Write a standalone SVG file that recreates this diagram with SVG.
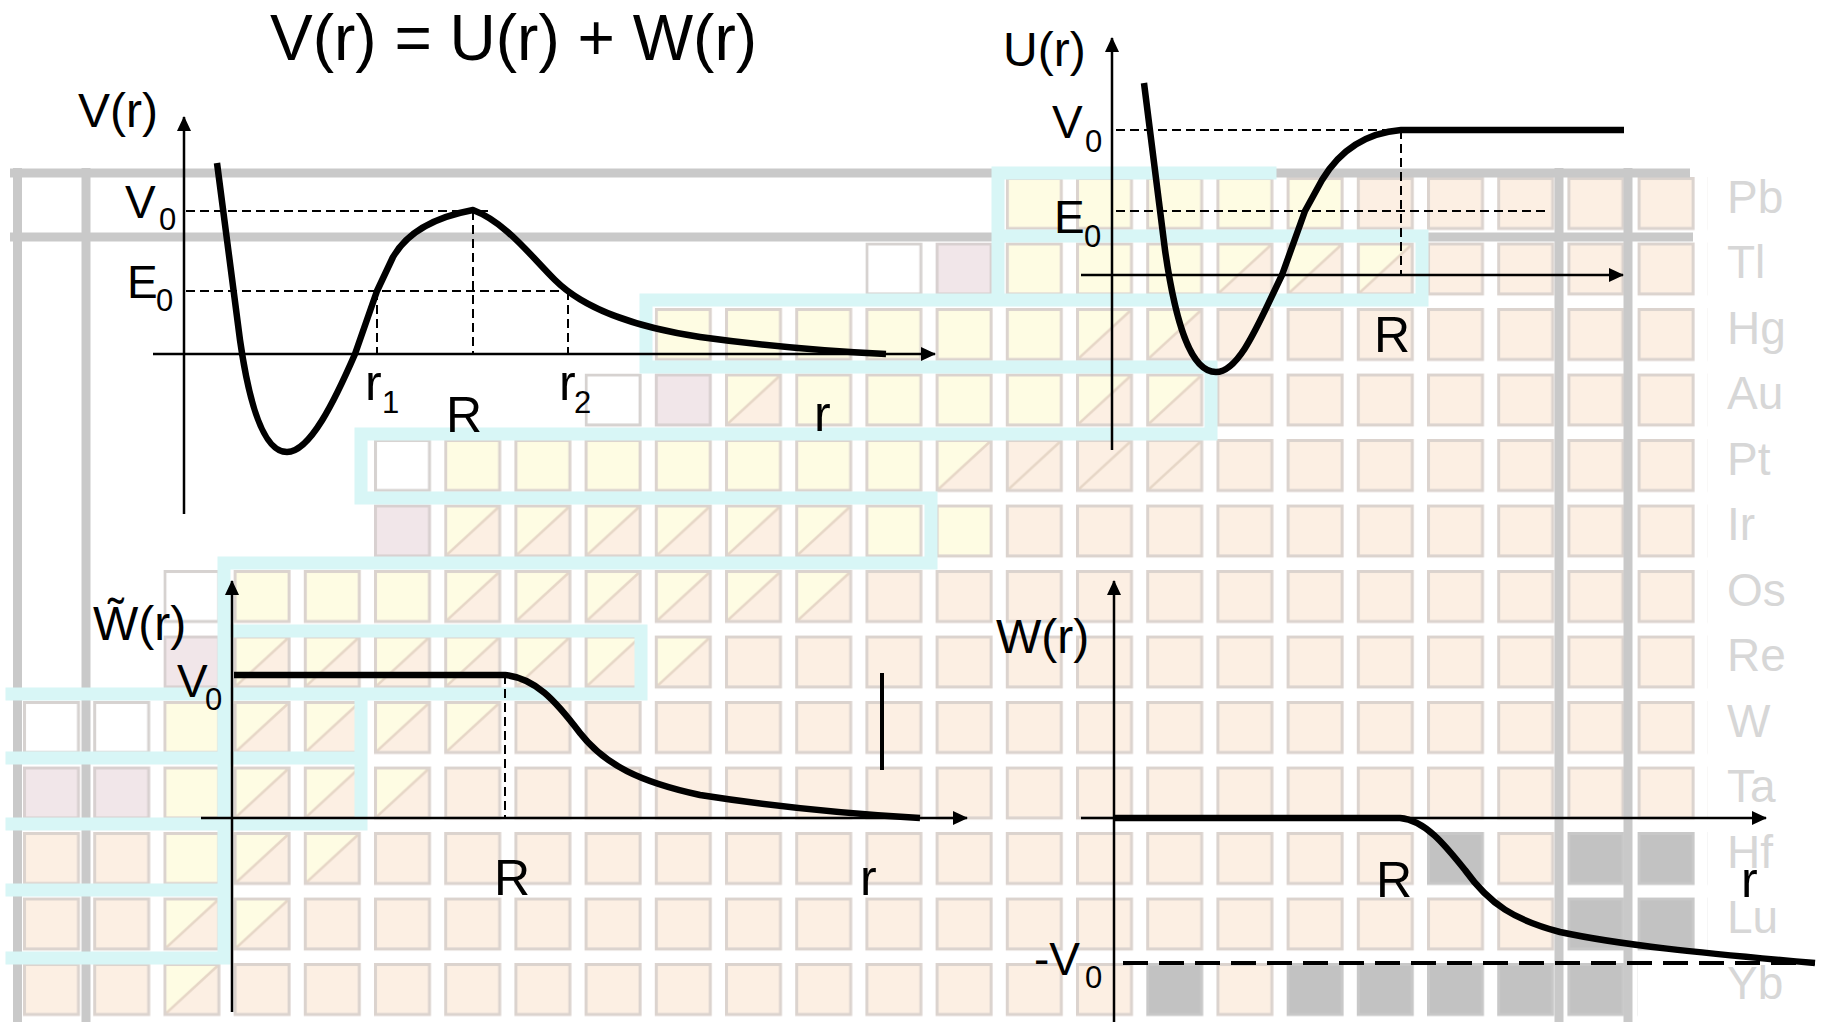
<svg xmlns="http://www.w3.org/2000/svg" width="1824" height="1022" viewBox="0 0 1824 1022">
<style>
.ax{stroke:#000;stroke-width:2.5;fill:none}
.cv{stroke:#000;stroke-width:6.5;fill:none;stroke-linejoin:round;stroke-linecap:butt}
.dsh{stroke:#000;stroke-width:2;stroke-dasharray:9 5;fill:none}
.lbl{font-family:"Liberation Sans",Arial,sans-serif;font-size:48px;fill:#000}
.big{font-size:50px}
.sm{font-size:46px}
.sub{font-size:31px}
.el{font-family:"Liberation Sans",Arial,sans-serif;font-size:46px;fill:#d7d7d7}
.cy{stroke:#d8f6f6;stroke-width:13;fill:none;stroke-linecap:square}
.gb{stroke:#c9c9c9;stroke-width:9;fill:none}
</style>
<defs>
<marker id="arr" markerWidth="15" markerHeight="14" refX="14" refY="7" orient="auto" markerUnits="userSpaceOnUse"><path d="M0,0 L15,7 L0,14 z" fill="#000"/></marker>
<pattern id="pP" x="23" y="177" width="70.2" height="65.5" patternUnits="userSpaceOnUse"><rect x="1.5" y="1.5" width="54" height="50" fill="#fcefe3" stroke="#dbd3ce" stroke-width="3"/></pattern>
<pattern id="pY" x="23" y="177" width="70.2" height="65.5" patternUnits="userSpaceOnUse"><rect x="1.5" y="1.5" width="54" height="50" fill="#fefce3" stroke="#dbd3ce" stroke-width="3"/></pattern>
<pattern id="pYD" x="23" y="177" width="70.2" height="65.5" patternUnits="userSpaceOnUse"><rect x="1.5" y="1.5" width="54" height="50" fill="#fefce3"/><polygon points="55.5,1.5 55.5,51.5 1.5,51.5" fill="#fcefe3"/><line x1="3" y1="50" x2="54" y2="3" stroke="#e6d6c6" stroke-width="2.5"/><rect x="1.5" y="1.5" width="54" height="50" fill="none" stroke="#dbd3ce" stroke-width="3"/></pattern>
<pattern id="pPD" x="23" y="177" width="70.2" height="65.5" patternUnits="userSpaceOnUse"><rect x="1.5" y="1.5" width="54" height="50" fill="#fcefe3"/><line x1="3" y1="50" x2="54" y2="3" stroke="#e6d6c6" stroke-width="2.5"/><rect x="1.5" y="1.5" width="54" height="50" fill="none" stroke="#dbd3ce" stroke-width="3"/></pattern>
<pattern id="pW" x="23" y="177" width="70.2" height="65.5" patternUnits="userSpaceOnUse"><rect x="1.5" y="1.5" width="54" height="50" fill="#ffffff" stroke="#d6d2d0" stroke-width="3"/></pattern>
<pattern id="pK" x="23" y="177" width="70.2" height="65.5" patternUnits="userSpaceOnUse"><rect x="1.5" y="1.5" width="54" height="50" fill="#f1e6e9" stroke="#d8d0d0" stroke-width="3"/></pattern>
<pattern id="pG" x="23" y="177" width="70.2" height="65.5" patternUnits="userSpaceOnUse"><rect x="1.5" y="1.5" width="54" height="50" fill="#c2c2c2" stroke="#c8c8c8" stroke-width="3"/></pattern>
</defs>
<rect width="1824" height="1022" fill="#fff"/>
<g id="chart-cells">
<rect x="1005.8" y="177" width="351" height="65.5" fill="url(#pY)"/>
<rect x="1356.8" y="177" width="351" height="65.5" fill="url(#pP)"/>
<rect x="865.4" y="242.5" width="70.2" height="65.5" fill="url(#pW)"/>
<rect x="935.6" y="242.5" width="70.2" height="65.5" fill="url(#pK)"/>
<rect x="1005.8" y="242.5" width="210.6" height="65.5" fill="url(#pY)"/>
<rect x="1216.4" y="242.5" width="210.6" height="65.5" fill="url(#pYD)"/>
<rect x="1427" y="242.5" width="280.8" height="65.5" fill="url(#pP)"/>
<rect x="654.8" y="308" width="421.2" height="65.5" fill="url(#pY)"/>
<rect x="1076" y="308" width="140.4" height="65.5" fill="url(#pYD)"/>
<rect x="1216.4" y="308" width="491.4" height="65.5" fill="url(#pP)"/>
<rect x="584.6" y="373.5" width="70.2" height="65.5" fill="url(#pW)"/>
<rect x="654.8" y="373.5" width="70.2" height="65.5" fill="url(#pK)"/>
<rect x="725" y="373.5" width="70.2" height="65.5" fill="url(#pYD)"/>
<rect x="795.2" y="373.5" width="280.8" height="65.5" fill="url(#pY)"/>
<rect x="1076" y="373.5" width="140.4" height="65.5" fill="url(#pYD)"/>
<rect x="1216.4" y="373.5" width="491.4" height="65.5" fill="url(#pP)"/>
<rect x="374" y="439" width="70.2" height="65.5" fill="url(#pW)"/>
<rect x="444.2" y="439" width="491.4" height="65.5" fill="url(#pY)"/>
<rect x="935.6" y="439" width="70.2" height="65.5" fill="url(#pYD)"/>
<rect x="1005.8" y="439" width="210.6" height="65.5" fill="url(#pPD)"/>
<rect x="1216.4" y="439" width="491.4" height="65.5" fill="url(#pP)"/>
<rect x="374" y="504.5" width="70.2" height="65.5" fill="url(#pK)"/>
<rect x="444.2" y="504.5" width="421.2" height="65.5" fill="url(#pYD)"/>
<rect x="865.4" y="504.5" width="140.4" height="65.5" fill="url(#pY)"/>
<rect x="1005.8" y="504.5" width="702" height="65.5" fill="url(#pP)"/>
<rect x="163.4" y="570" width="70.2" height="65.5" fill="url(#pW)"/>
<rect x="233.6" y="570" width="210.6" height="65.5" fill="url(#pY)"/>
<rect x="444.2" y="570" width="421.2" height="65.5" fill="url(#pYD)"/>
<rect x="865.4" y="570" width="842.4" height="65.5" fill="url(#pP)"/>
<rect x="163.4" y="635.5" width="70.2" height="65.5" fill="url(#pK)"/>
<rect x="233.6" y="635.5" width="491.4" height="65.5" fill="url(#pYD)"/>
<rect x="725" y="635.5" width="982.8" height="65.5" fill="url(#pP)"/>
<rect x="23" y="701" width="140.4" height="65.5" fill="url(#pW)"/>
<rect x="163.4" y="701" width="70.2" height="65.5" fill="url(#pY)"/>
<rect x="233.6" y="701" width="280.8" height="65.5" fill="url(#pYD)"/>
<rect x="514.4" y="701" width="1193.4" height="65.5" fill="url(#pP)"/>
<rect x="23" y="766.5" width="140.4" height="65.5" fill="url(#pK)"/>
<rect x="163.4" y="766.5" width="70.2" height="65.5" fill="url(#pY)"/>
<rect x="233.6" y="766.5" width="210.6" height="65.5" fill="url(#pYD)"/>
<rect x="444.2" y="766.5" width="1263.6" height="65.5" fill="url(#pP)"/>
<rect x="23" y="832" width="140.4" height="65.5" fill="url(#pP)"/>
<rect x="163.4" y="832" width="70.2" height="65.5" fill="url(#pY)"/>
<rect x="233.6" y="832" width="140.4" height="65.5" fill="url(#pYD)"/>
<rect x="374" y="832" width="1053" height="65.5" fill="url(#pP)"/>
<rect x="1427" y="832" width="70.2" height="65.5" fill="url(#pG)"/>
<rect x="1497.2" y="832" width="70.2" height="65.5" fill="url(#pP)"/>
<rect x="1567.4" y="832" width="140.4" height="65.5" fill="url(#pG)"/>
<rect x="23" y="897.5" width="140.4" height="65.5" fill="url(#pP)"/>
<rect x="163.4" y="897.5" width="140.4" height="65.5" fill="url(#pYD)"/>
<rect x="303.8" y="897.5" width="1263.6" height="65.5" fill="url(#pP)"/>
<rect x="1567.4" y="897.5" width="140.4" height="65.5" fill="url(#pG)"/>
<rect x="23" y="963" width="140.4" height="65.5" fill="url(#pP)"/>
<rect x="163.4" y="963" width="70.2" height="65.5" fill="url(#pYD)"/>
<rect x="233.6" y="963" width="912.6" height="65.5" fill="url(#pP)"/>
<rect x="1146.2" y="963" width="70.2" height="65.5" fill="url(#pG)"/>
<rect x="1216.4" y="963" width="70.2" height="65.5" fill="url(#pP)"/>
<rect x="1286.6" y="963" width="351" height="65.5" fill="url(#pG)"/>
</g>
<g id="chart-gray-lines">
<path class="gb" d="M10,173 H1690 M10,237 H1693"/>
<path class="gb" d="M17.5,168 V1022 M86,168 V1022 M1559,168 V1022 M1628,168 V1022"/>
</g>
<g id="chart-cyan-lines">
<path class="cy" d="M998,173 H1270 M998,173 V300 M998,236 H1422 M1422,236 V300 M646,300 H1422 M646,300 V367 M646,367 H1211 M1211,367 V434 M361,434 H1211 M361,434 V498 M361,498 H931 M931,498 V563 M224,563 H931 M224,563 V958 M224,631 H641 M641,631 V694 M12,694 H641 M361,694 V824 M12,758 H361 M12,824 H361 M12,890 H224 M12,958 H224"/>
</g>
<g id="element-labels">
<text class="el" x="1727" y="213">Pb</text>
<text class="el" x="1727" y="278">Tl</text>
<text class="el" x="1727" y="344">Hg</text>
<text class="el" x="1727" y="409">Au</text>
<text class="el" x="1727" y="475">Pt</text>
<text class="el" x="1727" y="540">Ir</text>
<text class="el" x="1727" y="606">Os</text>
<text class="el" x="1727" y="671">Re</text>
<text class="el" x="1727" y="737">W</text>
<text class="el" x="1727" y="802">Ta</text>
<text class="el" x="1727" y="868">Hf</text>
<text class="el" x="1727" y="933">Lu</text>
<text class="el" x="1727" y="999">Yb</text>
</g>
<g id="title">
<text class="lbl" x="270" y="60" font-size="64" style="font-size:64px">V(r) = U(r) + W(r)</text>
</g>
<g id="plot-V">
<path class="ax" d="M184,514 V117" marker-end="url(#arr)"/>
<path class="ax" d="M153,354 H935" marker-end="url(#arr)"/>
<path class="dsh" d="M186,211 H488 M186,291 H568 M377,291 V354 M473,211 V354 M568,291 V354"/>
<path class="cv" d="M217,163 L240,340 C250,410 265,452 287,452 C310,452 335,400 355,354 L377,291 L393,257 C405,236 430,218 473,210 C505,222 530,255 555,280 C585,310 640,328 700,337 C780,348 840,352 886,354"/>
<text class="lbl" x="78" y="127">V(r)</text>
<text class="lbl sm" x="125" y="218">V<tspan class="sub" x="159" y="230">0</tspan></text>
<text class="lbl sm" x="127" y="298">E<tspan class="sub" x="156" y="311">0</tspan></text>
<text class="lbl big" x="365" y="400">r<tspan class="sub" x="382" y="413">1</tspan></text>
<text class="lbl big" x="446" y="432">R</text>
<text class="lbl big" x="559" y="400">r<tspan class="sub" x="574" y="413">2</tspan></text>
<text class="lbl big" x="814" y="431">r</text>
</g>
<g id="plot-U">
<path class="ax" d="M1112,450 V38" marker-end="url(#arr)"/>
<path class="ax" d="M1081,275 H1623" marker-end="url(#arr)"/>
<path class="dsh" d="M1116,130 H1400 M1116,211 H1546 M1401,130 V275"/>
<path class="cv" d="M1144,83 L1165,250 C1175,320 1190,372 1216,372 C1240,372 1260,320 1282,275 L1305,211 L1322,180 C1340,150 1365,133 1401,130 L1624,130"/>
<text class="lbl" x="1003" y="66">U(r)</text>
<text class="lbl sm" x="1052" y="138">V<tspan class="sub" x="1085" y="152">0</tspan></text>
<text class="lbl sm" x="1054" y="233">E<tspan class="sub" x="1084" y="247">0</tspan></text>
<text class="lbl big" x="1374" y="352">R</text>
</g>
<g id="plot-Wtilde">
<path class="ax" d="M232,1012 V581" marker-end="url(#arr)"/>
<path class="ax" d="M201,818 H967" marker-end="url(#arr)"/>
<path class="dsh" d="M505,675 V818"/>
<path class="cv" d="M234,675 L505,675 C535,678 555,700 580,733 C605,765 640,782 700,795 C770,806 850,814 920,818"/>
<path d="M882,673 V770" stroke="#000" stroke-width="4"/>
<text class="lbl" x="93" y="640">W&#x303;(r)</text>
<text class="lbl sm" x="177" y="697">V<tspan class="sub" x="205" y="710">0</tspan></text>
<text class="lbl big" x="494" y="895">R</text>
<text class="lbl big" x="860" y="895">r</text>
</g>
<g id="plot-W">
<path class="ax" d="M1114,1022 V581" marker-end="url(#arr)"/>
<path class="ax" d="M1081,818 H1766" marker-end="url(#arr)"/>
<path d="M1123,963 H1815" stroke="#000" stroke-width="4" stroke-dasharray="25 11" fill="none"/>
<path class="cv" d="M1114,818 L1400,818 C1425,820 1445,845 1465,870 C1490,905 1515,920 1560,932 C1620,945 1700,953 1815,963"/>
<text class="lbl" x="996" y="653">W(r)</text>
<text class="lbl sm" x="1034" y="975">-V<tspan class="sub" x="1085" y="988">0</tspan></text>
<text class="lbl big" x="1376" y="897">R</text>
<text class="lbl big" x="1741" y="897">r</text>
</g>
</svg>
